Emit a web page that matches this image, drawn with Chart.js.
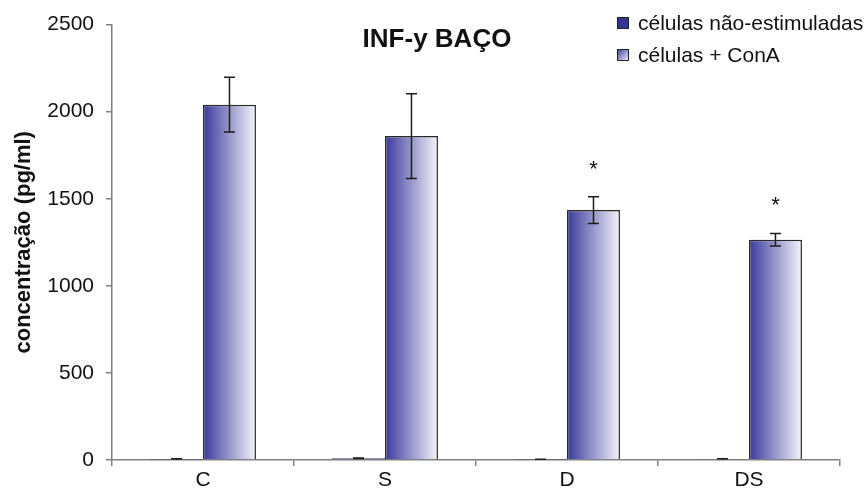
<!DOCTYPE html>
<html>
<head>
<meta charset="utf-8">
<script src="https://cdn.jsdelivr.net/npm/chart.js@4/dist/chart.umd.min.js"></script>
<style>html,body{margin:0;padding:0;background:#fff}</style>
</head>
<body>
<canvas id="c" width="867" height="499"></canvas>
<script>
// data
const categories = ['C', 'S', 'D', 'DS'];
const naoEstimuladas = [2, 10, 1, 3];
const naoEstimuladasErr = [5, 2, 4, 4];
const conA = [2040, 1860, 1435, 1265];
const conAErr = [157, 243, 77, 36];
const signif = ['', '', '*', '*'];
const yTicks = [0, 500, 1000, 1500, 2000, 2500];

const FONT = "'Liberation Sans', Arial, sans-serif";
const catPct = 0.582;

function blueToWhite(ctx, x0, y0, x1, y1) {
 const g = ctx.createLinearGradient(x0, y0, x1, y1);
 g.addColorStop(0, '#3a3a9c');
 g.addColorStop(1, '#f4f4fa');
 return g;
}

const extras = {
 id: 'extras',
 // give every ConA bar its own left->right gradient, from the laid out element
 beforeDatasetsDraw(chart) {
  chart.getDatasetMeta(1).data.forEach(bar => {
   const l = bar.x - bar.width / 2, r = bar.x + bar.width / 2;
   if (isFinite(l) && isFinite(r)) bar.options.backgroundColor = blueToWhite(chart.ctx, l, 0, r, 0);
  });
 },
 afterDatasetsDraw(chart) {
  const ctx = chart.ctx;
  const y = chart.scales.y;
  const sets = [[naoEstimuladas, naoEstimuladasErr], [conA, conAErr]];

  // error bars + asterisks
  ctx.save();
  ctx.strokeStyle = '#1e1e1e';
  ctx.lineWidth = 1.5;
  sets.forEach(([vals, errs], d) => {
   chart.getDatasetMeta(d).data.forEach((bar, i) => {
    const x = bar.x;
    const top = y.getPixelForValue(vals[i] + errs[i]);
    const lowVal = vals[i] - errs[i];
    const bot = y.getPixelForValue(Math.max(lowVal, 0));
    ctx.beginPath();
    ctx.moveTo(x, top); ctx.lineTo(x, bot);
    ctx.moveTo(x - 5.5, top); ctx.lineTo(x + 5.5, top);
    if (lowVal > 0) { ctx.moveTo(x - 5.5, bot); ctx.lineTo(x + 5.5, bot); }
    ctx.stroke();
    if (d === 1 && signif[i]) {
     ctx.fillStyle = '#111';
     ctx.font = '22px ' + FONT;
     ctx.textAlign = 'center';
     ctx.textBaseline = 'alphabetic';
     ctx.fillText(signif[i], x, top - 21);
    }
   });
  });

  // title
  ctx.fillStyle = '#111';
  ctx.font = 'bold 26px ' + FONT;
  ctx.textAlign = 'center';
  ctx.textBaseline = 'middle';
  ctx.fillText('INF-y BAÇO', 437, 40);

  // legend
  const items = chart.data.datasets.map(ds => ds.label);
  ctx.font = '21px ' + FONT;
  ctx.textAlign = 'left';
  items.forEach((label, k) => {
   const bx = 617, by = 17 + k * 32;
   ctx.fillStyle = k === 0 ? '#333399' : blueToWhite(ctx, bx, by, bx + 12, by + 12);
   ctx.fillRect(bx, by, 12, 12);
   ctx.lineWidth = 1;
   ctx.strokeStyle = '#222';
   ctx.strokeRect(bx + 0.5, by + 0.5, 11, 11);
   ctx.fillStyle = '#111';
   ctx.fillText(label, 638, by + 7);
  });
  ctx.restore();
 }
};

new Chart(document.getElementById('c'), {
 type: 'bar',
 data: {
  labels: categories,
  datasets: [
   {
    label: 'células não-estimuladas',
    data: naoEstimuladas,
    backgroundColor: '#333399',
    borderColor: '#1a1a1a',
    borderWidth: 1,
    categoryPercentage: catPct,
    barPercentage: 1.0,
   },
   {
    label: 'células + ConA',
    data: conA,
    backgroundColor: () => '#6a6ab5', // scriptable so each bar keeps its own options
    borderColor: '#2a2a2a',
    borderWidth: 1.5,
    categoryPercentage: catPct,
    barPercentage: 1.0,
   }
  ]
 },
 options: {
  responsive: false,
  animation: false,
  layout: { padding: { top: 10, right: 27, left: 0, bottom: 0 } },
  plugins: { legend: { display: false }, tooltip: { enabled: false } },
  scales: {
   x: {
    grid: { drawOnChartArea: false, drawTicks: true, tickLength: 6, color: '#808080', lineWidth: 1.5, offset: true },
    border: { color: '#808080', width: 1.5 },
    ticks: { color: '#111', font: { size: 21, family: FONT }, padding: 2 },
    afterFit: s => { s.height = 39; }
   },
   y: {
    min: 0,
    max: 2500,
    afterBuildTicks: s => { s.ticks = yTicks.map(v => ({ value: v })); },
    grid: { drawOnChartArea: false, drawTicks: true, tickLength: 6, color: '#808080', lineWidth: 1.5 },
    border: { color: '#808080', width: 1.5 },
    ticks: { color: '#111', font: { size: 21, family: FONT }, padding: 12, callback: v => String(v) },
    title: {
     display: true,
     text: 'concentração (pg/ml)',
     color: '#111',
     font: { size: 22, weight: 'bold', family: FONT },
     padding: { top: 11, bottom: 0 }
    },
    afterFit: s => { s.width = 112; }
   }
  }
 },
 plugins: [extras]
});
</script>
</body>
</html>
